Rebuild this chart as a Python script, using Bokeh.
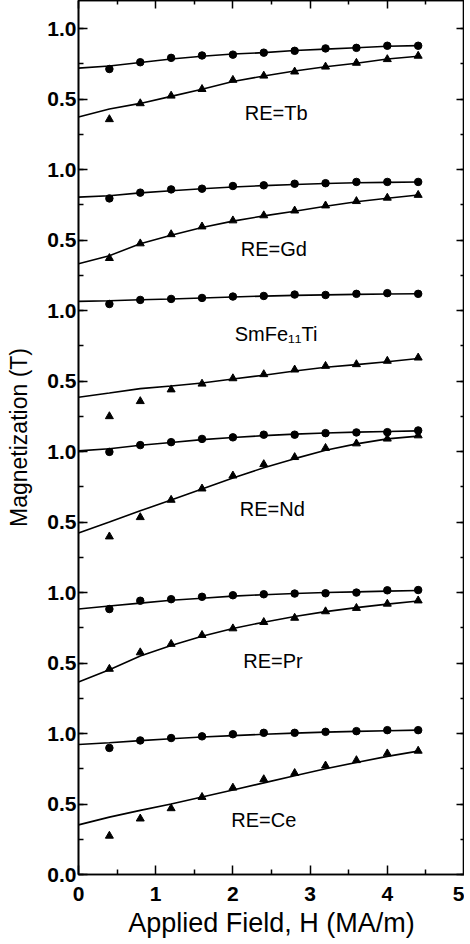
import numpy as np
from bokeh.plotting import figure
from bokeh.models import FixedTicker, LinearAxis, Range1d, ColumnDataSource, CustomLabelingPolicy
from bokeh.core.properties import value
from bokeh.embed import file_html
from bokeh.resources import INLINE

# Applied field (MA/m)
h_points = [0.4, 0.8, 1.2, 1.6, 2.0, 2.4, 2.8, 3.2, 3.6, 4.0, 4.4]
h_fit = [0.0, 0.4, 0.8, 1.2, 1.6, 2.0, 2.4, 2.8, 3.2, 3.6, 4.0, 4.4]

# panels, bottom to top (each panel is shifted up by one unit)
samples = ["RE=Ce", "RE=Pr", "RE=Nd", "SmFe\u2081\u2081Ti", "RE=Gd", "RE=Tb"]

# circles (measured) and their fitted curve
ce_circ = [0.898, 0.951, 0.968, 0.980, 0.995, 1.005, 1.005, 1.012, 1.017, 1.024, 1.024]
ce_circ_fit = [0.922, 0.935, 0.950, 0.963, 0.975, 0.985, 0.995, 1.003, 1.010, 1.015, 1.020, 1.024]
pr_circ = [0.883, 0.942, 0.953, 0.970, 0.981, 0.988, 0.993, 0.995, 1.000, 1.016, 1.018]
pr_circ_fit = [0.883, 0.905, 0.925, 0.945, 0.960, 0.975, 0.985, 0.993, 1.000, 1.005, 1.010, 1.015]
nd_circ = [0.998, 1.046, 1.067, 1.090, 1.101, 1.120, 1.120, 1.131, 1.136, 1.138, 1.150]
nd_circ_fit = [1.005, 1.020, 1.045, 1.065, 1.085, 1.100, 1.113, 1.124, 1.132, 1.138, 1.143, 1.147]
sm_circ = [1.047, 1.076, 1.083, 1.090, 1.100, 1.104, 1.114, 1.111, 1.119, 1.124, 1.119]
sm_circ_fit = [1.066, 1.070, 1.077, 1.083, 1.090, 1.097, 1.103, 1.108, 1.112, 1.115, 1.118, 1.120]
gd_circ = [0.796, 0.837, 0.860, 0.865, 0.884, 0.889, 0.900, 0.904, 0.913, 0.913, 0.913]
gd_circ_fit = [0.805, 0.815, 0.835, 0.850, 0.865, 0.877, 0.887, 0.895, 0.902, 0.907, 0.910, 0.913]
tb_circ = [0.714, 0.762, 0.793, 0.810, 0.816, 0.830, 0.843, 0.860, 0.864, 0.879, 0.879]
tb_circ_fit = [0.720, 0.735, 0.760, 0.785, 0.805, 0.820, 0.830, 0.845, 0.855, 0.865, 0.875, 0.880]

# triangles (measured) and their fitted curve
ce_tri = [0.274, 0.396, 0.469, 0.549, 0.615, 0.675, 0.719, 0.772, 0.810, 0.858, 0.877]
ce_tri_fit = [0.352, 0.407, 0.455, 0.500, 0.550, 0.600, 0.650, 0.700, 0.750, 0.795, 0.838, 0.875]
pr_tri = [0.458, 0.575, 0.635, 0.698, 0.745, 0.790, 0.820, 0.866, 0.890, 0.920, 0.943]
pr_tri_fit = [0.365, 0.453, 0.550, 0.625, 0.690, 0.745, 0.790, 0.830, 0.865, 0.893, 0.918, 0.940]
nd_tri = [0.397, 0.534, 0.657, 0.737, 0.829, 0.910, 0.960, 1.025, 1.057, 1.091, 1.114]
nd_tri_fit = [0.423, 0.500, 0.580, 0.657, 0.735, 0.813, 0.885, 0.950, 1.010, 1.055, 1.090, 1.110]
sm_tri = [0.250, 0.357, 0.440, 0.481, 0.519, 0.548, 0.581, 0.607, 0.619, 0.643, 0.666]
sm_tri_fit = [0.386, 0.416, 0.447, 0.465, 0.487, 0.515, 0.542, 0.572, 0.598, 0.617, 0.637, 0.660]
gd_tri = [0.372, 0.476, 0.541, 0.596, 0.639, 0.675, 0.709, 0.745, 0.776, 0.800, 0.820]
gd_tri_fit = [0.332, 0.390, 0.475, 0.535, 0.590, 0.635, 0.672, 0.705, 0.740, 0.772, 0.797, 0.820]
tb_tri = [0.357, 0.470, 0.524, 0.571, 0.636, 0.666, 0.695, 0.730, 0.757, 0.783, 0.807]
tb_tri_fit = [0.374, 0.430, 0.470, 0.520, 0.570, 0.625, 0.665, 0.700, 0.730, 0.755, 0.785, 0.805]

circ_sets = [ce_circ, pr_circ, nd_circ, sm_circ, gd_circ, tb_circ]
circ_fits = [ce_circ_fit, pr_circ_fit, nd_circ_fit, sm_circ_fit, gd_circ_fit, tb_circ_fit]
tri_sets = [ce_tri, pr_tri, nd_tri, sm_tri, gd_tri, tb_tri]
tri_fits = [ce_tri_fit, pr_tri_fit, nd_tri_fit, sm_tri_fit, gd_tri_fit, tb_tri_fit]

# label anchor (field, local magnetization) for each panel
label_h = [2.40, 2.52, 2.51, 2.56, 2.53, 2.56]
label_m = [0.385, 0.515, 0.59, 0.835, 0.435, 0.40]

FONT = "Liberation Sans"

p = figure(width=464, height=940, output_backend="svg", toolbar_location=None,
           x_range=Range1d(0, 5), y_range=Range1d(0, 6.2),
           min_border_left=78, min_border_right=0, min_border_top=0, min_border_bottom=0)
p.xgrid.visible = False
p.ygrid.visible = False
p.outline_line_color = "black"
p.outline_line_width = 1.6
p.background_fill_color = "white"
p.border_fill_color = "white"

for i in range(len(samples)):
    off = i
    p.line(h_fit, np.array(circ_fits[i]) + off, line_color="black", line_width=1.6)
    p.line(h_fit, np.array(tri_fits[i]) + off, line_color="black", line_width=1.6)
    p.scatter(h_points, np.array(circ_sets[i]) + off, marker="circle", size=7.5,
              fill_color="black", line_color="black")
    p.scatter(h_points, np.array(tri_sets[i]) + off, marker="triangle", size=8,
              fill_color="black", line_color="black")

lab_src = ColumnDataSource(dict(x=label_h, y=np.array(label_m) + np.arange(len(samples)), t=samples))
p.text(x="x", y="y", text="t", source=lab_src, text_align="center", text_baseline="middle",
       text_font=value(FONT), text_font_size="20px", text_color="black")

# y ticks: each panel labelled 0.5 / 1.0
yt = [k * 0.5 for k in range(13)]
ym = [k * 0.25 for k in range(25)]
xt = [0, 1, 2, 3, 4, 5]
xm = [0.5, 1.5, 2.5, 3.5, 4.5]
overrides = {}
for t in yt:
    if t == 0:
        overrides[t] = "0.0"
    elif abs(t - round(t)) < 1e-9:
        overrides[t] = "1.0"
    else:
        overrides[t] = "0.5"

ax = p.xaxis[0]
ax.ticker = FixedTicker(ticks=xt, minor_ticks=xm)
ax.axis_label = "Applied Field, H (MA/m)"

ay = p.yaxis[0]
ay.ticker = FixedTicker(ticks=yt, minor_ticks=ym)
ay.major_label_overrides = overrides
ay.axis_label = "Magnetization (T)"

for a in (ax, ay):
    a.major_tick_in = 9
    a.major_tick_out = 0
    a.minor_tick_in = 5
    a.minor_tick_out = 0
    a.axis_line_width = 1.6
    a.major_tick_line_width = 1.5
    a.minor_tick_line_width = 1.5
    a.major_label_text_font = FONT
    a.major_label_text_font_size = "21px"
    a.major_label_text_font_style = "bold"
    a.major_label_text_color = "black"
    a.axis_label_text_font = FONT
    a.axis_label_text_font_style = "normal"
    a.axis_label_text_color = "black"
ax.axis_label_text_font_size = "27px"
ay.axis_label_text_font_size = "23px"
ax.major_label_standoff = 12
ax.axis_label_standoff = 4
ay.major_label_standoff = 2
ay.axis_label_standoff = 12

hide_labels = CustomLabelingPolicy(code="""
try { for (let i = 0; i < indices.size; i++) { indices.unset(i) } } catch (e) {}
return indices
""")

# mirrored tick marks on the top and right frame edges (no labels)
top = LinearAxis(ticker=FixedTicker(ticks=xt, minor_ticks=xm))
right = LinearAxis(ticker=FixedTicker(ticks=yt, minor_ticks=ym))
for a in (top, right):
    a.major_tick_in = 8
    a.major_tick_out = 0
    a.minor_tick_in = 4
    a.minor_tick_out = 0
    a.major_label_text_font_size = "0px"
    a.major_label_standoff = 0
    a.major_label_policy = hide_labels
    a.axis_line_width = 1.6
    a.major_tick_line_width = 1.5
    a.minor_tick_line_width = 1.5
p.add_layout(top, "above")
p.add_layout(right, "right")

open("out.html", "w").write(file_html(p, INLINE))
